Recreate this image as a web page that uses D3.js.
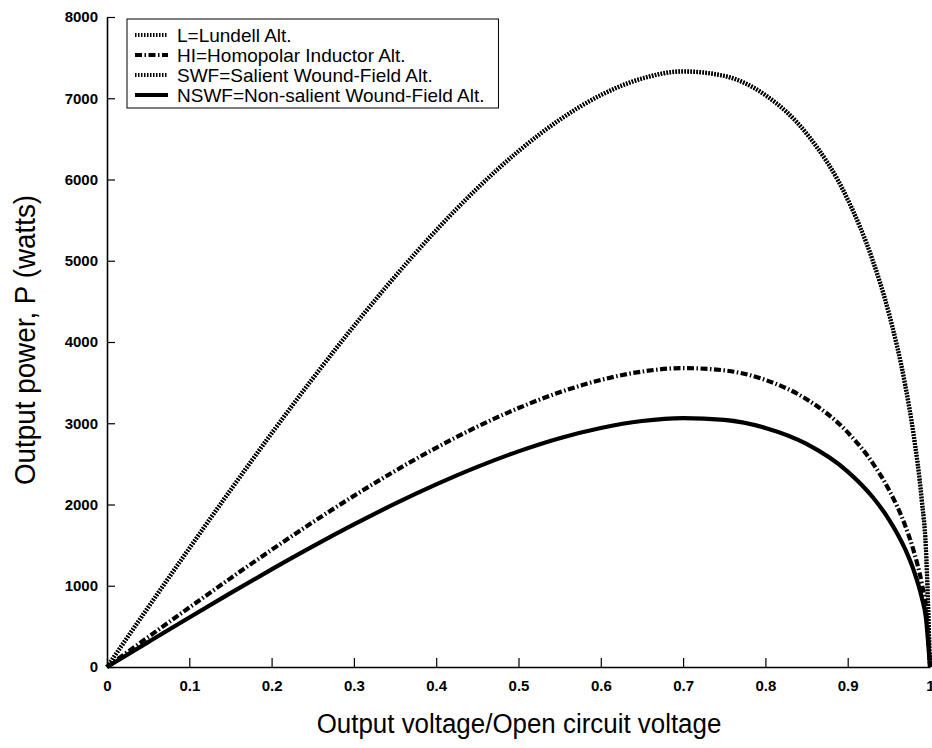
<!DOCTYPE html>
<html><head><meta charset="utf-8">
<script src="https://cdn.jsdelivr.net/npm/d3@7"></script>
<style>body{margin:0;background:#fff}svg{display:block}</style>
</head><body>
<svg id="c" width="932" height="748"></svg>
<script>
const voltage = [0,0.05,0.1,0.15,0.2,0.25,0.3,0.35,0.4,0.45,0.5,0.55,0.6,0.65,0.7,0.75,0.8,0.85,0.9,0.93,0.95,0.97,0.98,0.99,0.995,1];
const lundell = [0,735,1462,2178,2877,3552,4198,4808,5376,5893,6350,6736,7040,7244,7332,7276,7040,6568,5758,5020,4360,3470,2870,2060,1470,0];
const homopolar = [0,368,732,1091,1442,1782,2106,2413,2698,2958,3187,3381,3533,3636,3679,3651,3533,3296,2887,2516,2183,1736,1435,1028,731,0];
const salient = [0,732,1459,2174,2873,3549,4195,4806,5374,5891,6348,6734,7037,7241,7329,7273,7037,6564,5751,5011,4349,3457,2859,2047,1457,0];
const nonSalient = [0,306,610,909,1201,1484,1754,2010,2247,2463,2654,2816,2942,3028,3064,3041,2942,2745,2405,2095,1818,1446,1195,856,609,0];
const xTicks = [0,0.1,0.2,0.3,0.4,0.5,0.6,0.7,0.8,0.9,1];
const xTickLabels = ["0","0.1","0.2","0.3","0.4","0.5","0.6","0.7","0.8","0.9","1"];
const yTicks = [0,1000,2000,3000,4000,5000,6000,7000,8000];
const seriesNames = ["L=Lundell Alt.","HI=Homopolar Inductor Alt.","SWF=Salient Wound-Field Alt.","NSWF=Non-salient Wound-Field Alt."];

const series = [
  {name: seriesNames[0], values: lundell, dash: "1.5,1.5"},
  {name: seriesNames[1], values: homopolar, dash: "7,2.5,1.5,2.5"},
  {name: seriesNames[2], values: salient, dash: "1.5,1.5"},
  {name: seriesNames[3], values: nonSalient, dash: null}
];

const svg = d3.select("#c");
const x = d3.scaleLinear().domain([0,1]).range([107,930]);
const y = d3.scaleLinear().domain([0,8000]).range([667,17]);
const font = "'Liberation Sans', Arial, sans-serif";

// axes
const xAxis = svg.append("g").attr("transform","translate(0,667)")
  .call(d3.axisBottom(x).tickValues(xTicks).tickFormat((d,i)=>xTickLabels[i]).tickSizeInner(-9).tickSizeOuter(0).tickPadding(12));
const yAxis = svg.append("g").attr("transform","translate(107,0)")
  .call(d3.axisLeft(y).tickValues(yTicks).tickFormat(d3.format("d")).tickSizeInner(-8).tickSizeOuter(0).tickPadding(9));
[xAxis,yAxis].forEach(a=>{
  a.select(".domain").attr("stroke","#000").attr("stroke-width",1.6);
  a.selectAll(".tick line").attr("stroke","#000").attr("stroke-width",1.2);
  a.selectAll("text").attr("font-family",font).attr("font-size",15).attr("font-weight","bold").attr("fill","#000");
});
xAxis.selectAll(".tick text").attr("dy","0.8em");

const line = d3.line().x((d,i)=>x(voltage[i])).y(d=>y(d)).curve(d3.curveMonotoneX);
series.forEach(s=>{
  svg.append("path").datum(s.values).attr("d",line)
    .attr("fill","none").attr("stroke","#000").attr("stroke-width",4.2)
    .attr("stroke-dasharray",s.dash);
});

// axis titles
svg.append("text").attr("transform","translate(519,733) scale(0.96,1)").attr("text-anchor","middle")
  .attr("font-family",font).attr("font-size",27)
  .text("Output voltage/Open circuit voltage");
svg.append("text").attr("transform","translate(35,340) rotate(-90) scale(0.96,1)").attr("text-anchor","middle")
  .attr("font-family",font).attr("font-size",29)
  .text("Output power, P (watts)");

// legend
const lg = svg.append("g");
const box = lg.append("rect").attr("x",127).attr("y",19).attr("height",89)
  .attr("fill","#fff").attr("stroke","#000").attr("stroke-width",1);
let maxW = 0;
series.forEach((s,i)=>{
  const yy = 35 + i*20;
  lg.append("line").attr("x1",135).attr("x2",168).attr("y1",yy).attr("y2",yy)
    .attr("stroke","#000").attr("stroke-width",4).attr("stroke-dasharray",s.dash);
  const t = lg.append("text").attr("x",177).attr("y",yy).attr("dy","0.36em")
    .attr("font-family",font).attr("font-size",19).attr("fill","#000").text(s.name);
  maxW = Math.max(maxW, t.node().getComputedTextLength());
});
box.attr("width", 177 + maxW + 14 - 127);
</script>
</body></html>
